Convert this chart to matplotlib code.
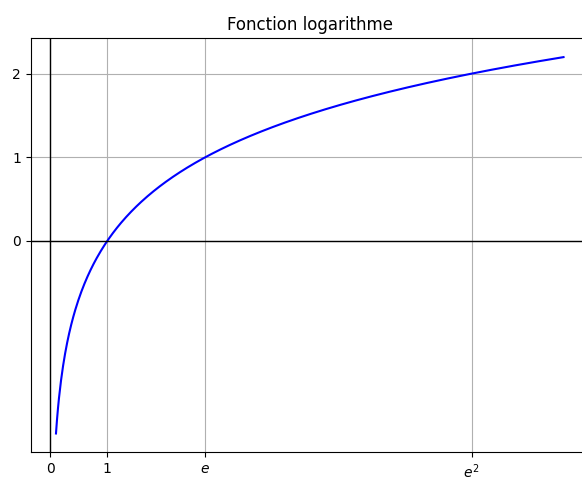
import numpy as np
import matplotlib
matplotlib.use("Agg")
import matplotlib.pyplot as plt

x_start = 0.1
x_end = 9.0
xtick_vals = [0, 1, np.e, np.e**2]
xtick_labels = ["0", "1", "$e$", "$e^2$"]
ytick_vals = [0, 1, 2]

x = np.linspace(x_start, x_end, 500)
y = np.log(x)

fig = plt.figure(figsize=(5.82, 4.79), dpi=100)
W, H = 582, 479
ax = fig.add_axes([30.6 / W, (479 - 452.3) / H, 558.3 / W, 414 / H])
ax.plot(x, y, color="blue")
ax.axhline(0, color="black", lw=1)
ax.axvline(0, color="black", lw=1)
ax.set_xticks(xtick_vals)
ax.set_xticklabels(xtick_labels)
ax.set_yticks(ytick_vals)
ax.grid(True)
ax.set_title("Fonction logarithme")
fig.savefig("out.png", dpi=100)
